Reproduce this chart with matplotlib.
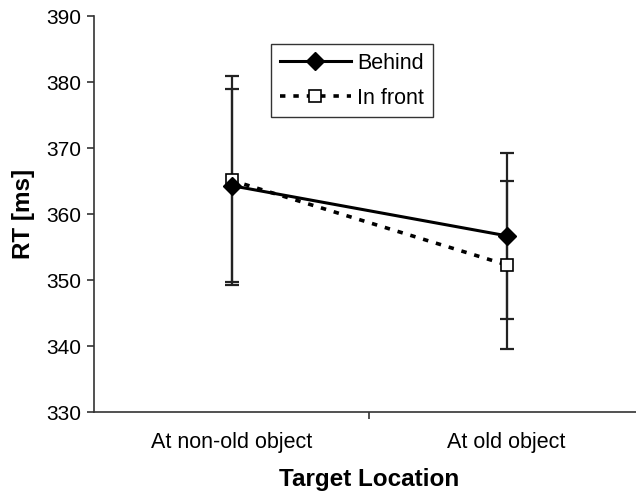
import numpy as np
import matplotlib
matplotlib.use("Agg")
from matplotlib import pyplot as plt

plt.rcParams['font.family'] = ['Liberation Sans', 'DejaVu Sans']

locations = ["At non-old object", "At old object"]
behind = [364.3, 356.7]
behind_err = [14.6, 12.6]
infront = [365.1, 352.3]
infront_err = [15.8, 12.7]

fig = plt.figure(figsize=(6.36, 4.92), dpi=100)
ax = fig.add_axes([94 / 636, 1 - 412 / 492, 550 / 636, 396 / 492])

x = np.arange(len(locations))

# error bars first, then lines and markers on top
ax.errorbar(x, behind, yerr=behind_err, fmt='none', ecolor='#222222',
            elinewidth=1.6, capsize=4.7, capthick=1.6, zorder=2)
ax.errorbar(x, infront, yerr=infront_err, fmt='none', ecolor='#222222',
            elinewidth=1.6, capsize=4.7, capthick=1.6, zorder=2)

ax.plot(x, infront, color='black', lw=2.6, ls=(0, (1.5, 2.2)),
        marker='s', ms=9, mfc='white', mec='black', mew=1.2,
        label='In front', zorder=3)
ax.plot(x, behind, color='black', lw=2.2, ls='-',
        marker='D', ms=9.5, mfc='black', mec='black',
        label='Behind', zorder=4)

ax.set_xlim(-0.5, 1.5)
ax.set_ylim(330, 390)
ax.set_yticks(np.arange(330, 391, 10))
ax.set_xticks([0.5])
ax.set_xticklabels([""])
for i, lab in enumerate(locations):
    ax.text(i, 326.9, lab, ha='center', va='top', fontsize=15.5)

ax.spines['top'].set_visible(False)
ax.spines['right'].set_visible(False)
for s in ['left', 'bottom']:
    ax.spines[s].set_color('#333333')
    ax.spines[s].set_linewidth(1.2)
ax.tick_params(axis='both', direction='out', length=5, width=1.2,
               color='#333333', labelsize=15)
ax.tick_params(axis='y', pad=4)

ax.set_ylabel("RT [ms]", fontsize=17.5, fontweight='bold', labelpad=8)
ax.set_xlabel("Target Location", fontsize=17.5, fontweight='bold', labelpad=32)

handles, labels = ax.get_legend_handles_labels()
leg = ax.legend(handles[::-1], labels[::-1], loc='upper left',
                bbox_to_anchor=(271 / 636, 1 - 44 / 492),
                bbox_transform=fig.transFigure, fontsize=15.5,
                frameon=True, fancybox=False, handlelength=3.3,
                borderpad=0.4, labelspacing=0.65, handletextpad=0.3,
                borderaxespad=0)
leg.get_frame().set_edgecolor('black')
leg.get_frame().set_linewidth(1.0)

fig.savefig("out.png", dpi=100)
